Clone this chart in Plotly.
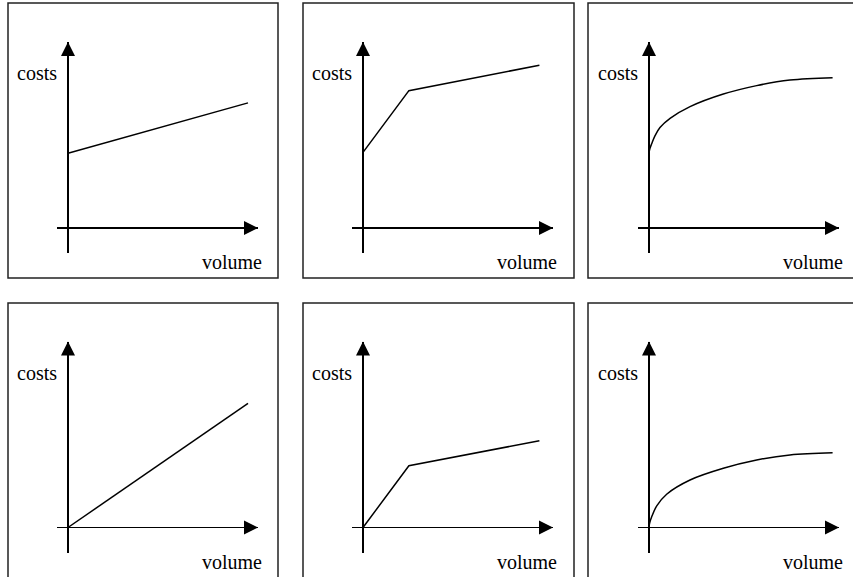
import plotly.graph_objects as go

# ---------------- data ----------------
x_label = "volume"
y_label = "costs"

# top row: fixed cost level + variable part
vol_fixed_linear = [0, 10.0]
cost_fixed_linear = [4.15, 6.95]

vol_fixed_kinked = [0, 2.55, 9.8]
cost_fixed_kinked = [4.2, 7.63, 9.04]

vol_fixed_curve = [0, 0.05, 0.15, 0.33, 0.61, 1.17, 2.28, 4.13, 5.98, 7.83, 10.2]
cost_fixed_curve = [4.2, 4.42, 4.68, 5.12, 5.58, 6.09, 6.74, 7.44, 7.91, 8.22, 8.35]

# bottom row: no fixed cost
vol_var_linear = [0, 10.0]
cost_var_linear = [0, 6.9]

vol_var_kinked = [0, 2.55, 9.8]
cost_var_kinked = [0, 3.43, 4.82]

vol_var_curve = [0, 0.05, 0.15, 0.43, 0.98, 2.28, 4.13, 5.98, 7.83, 10.2]
cost_var_curve = [0.05, 0.3, 0.6, 1.2, 1.85, 2.64, 3.29, 3.75, 4.03, 4.15]

panels = [
    (vol_fixed_linear, cost_fixed_linear, "linear"),
    (vol_fixed_kinked, cost_fixed_kinked, "linear"),
    (vol_fixed_curve, cost_fixed_curve, "spline"),
    (vol_var_linear, cost_var_linear, "linear"),
    (vol_var_kinked, cost_var_kinked, "linear"),
    (vol_var_curve, cost_var_curve, "spline"),
]

# ---------------- layout (pixels) ----------------
W, H = 853, 577
ORIGIN_X = [68, 363, 649]
ORIGIN_Y = [228, 527.5]
UNIT = 18.0                     # pixels per data unit
AX_LEFT, AX_RIGHT, AX_UP, AX_DOWN = 11, 190, 186, 25
BOX_X = [(8, 278), (303, 574), (588, 875)]
BOX_Y = [(3, 278), (303, 600)]
COSTS_DX, COSTS_DY = -31.5, -155      # label centre relative to origin (px)
VOLUME_DX, VOLUME_DY = 164, 34

FONT = dict(family="Liberation Serif, Times New Roman, serif", size=20, color="black")

fig = go.Figure()
layout = dict(
    width=W, height=H, margin=dict(l=0, r=0, t=0, b=0),
    paper_bgcolor="white", plot_bgcolor="rgba(0,0,0,0)",
    showlegend=False, shapes=[], annotations=[],
)

xmin, xmax = -AX_LEFT / UNIT, AX_RIGHT / UNIT
ymin, ymax = -AX_DOWN / UNIT, AX_UP / UNIT

for i, (vx, vy, shape) in enumerate(panels):
    r, c = divmod(i, 3)
    k = i + 1
    xa = "x" if k == 1 else f"x{k}"
    ya = "y" if k == 1 else f"y{k}"
    ox, oy = ORIGIN_X[c], ORIGIN_Y[r]

    axis_common = dict(showgrid=False, showticklabels=False, ticks="", showline=False,
                       zeroline=True, zerolinecolor="black", zerolinewidth=1.3,
                       fixedrange=True)
    layout[f"xaxis{'' if k == 1 else k}"] = dict(
        domain=[(ox - AX_LEFT) / W, (ox + AX_RIGHT) / W],
        range=[xmin, xmax], anchor=ya, **axis_common)
    layout[f"yaxis{'' if k == 1 else k}"] = dict(
        domain=[1 - (oy + AX_DOWN) / H, 1 - (oy - AX_UP) / H],
        range=[ymin, ymax], anchor=xa, **axis_common)

    # cost curve
    fig.add_trace(go.Scatter(x=vx, y=vy, mode="lines", xaxis=xa, yaxis=ya,
                             line=dict(color="black", width=1.5, shape=shape,
                                       smoothing=1.0),
                             cliponaxis=False, hoverinfo="skip"))
    # arrow heads at the ends of the axes
    fig.add_trace(go.Scatter(x=[xmax, 0], y=[0, ymax], mode="markers", xaxis=xa, yaxis=ya,
                             marker=dict(symbol=["arrow-right", "arrow-up"], size=14,
                                         color="black", line=dict(width=0)),
                             cliponaxis=False, hoverinfo="skip"))

    # frame
    bx0, bx1 = BOX_X[c]
    by0, by1 = BOX_Y[r]
    layout["shapes"].append(dict(type="rect", xref="paper", yref="paper",
                                 x0=bx0 / W, x1=bx1 / W, y0=1 - by1 / H, y1=1 - by0 / H,
                                 line=dict(color="#222", width=1.5), layer="below"))

    # labels
    layout["annotations"].append(dict(text=y_label, xref="paper", yref="paper",
                                      x=(ox + COSTS_DX) / W, y=1 - (oy + COSTS_DY) / H,
                                      showarrow=False, font=FONT,
                                      xanchor="center", yanchor="middle"))
    layout["annotations"].append(dict(text=x_label, xref="paper", yref="paper",
                                      x=(ox + VOLUME_DX) / W, y=1 - (oy + VOLUME_DY) / H,
                                      showarrow=False, font=FONT,
                                      xanchor="center", yanchor="middle"))

fig.update_layout(**layout)
fig.write_html("out.html", config={"displayModeBar": False, "staticPlot": True},
               post_script="document.body.style.margin='0';document.body.style.overflow='hidden';")
